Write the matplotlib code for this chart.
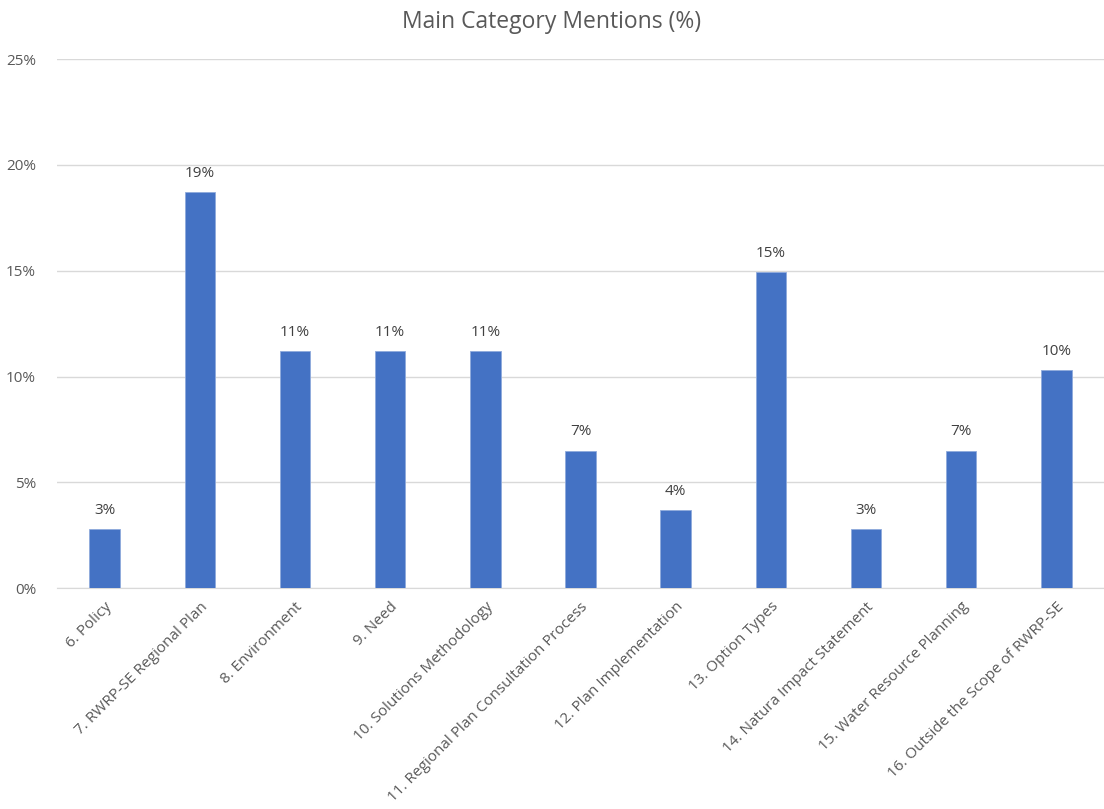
import matplotlib.pyplot as plt
from matplotlib.ticker import PercentFormatter

categories = [
    "6. Policy",
    "7. RWRP-SE Regional Plan",
    "8. Environment",
    "9. Need",
    "10. Solutions Methodology",
    "11. Regional Plan Consultation Process",
    "12. Plan Implementation",
    "13. Option Types",
    "14. Natura Impact Statement",
    "15. Water Resource Planning",
    "16. Outside the Scope of RWRP-SE",
]
mentions = [2.8, 18.7, 11.2, 11.2, 11.2, 6.5, 3.7, 14.95, 2.8, 6.5, 10.3]
labels = ["3%", "19%", "11%", "11%", "11%", "7%", "4%", "15%", "3%", "7%", "10%"]

plt.rcParams['font.family'] = ['Open Sans', 'DejaVu Sans']

fig = plt.figure(figsize=(11.04, 8.09), dpi=100)
ax = fig.add_axes([0.0516, 0.273, 0.9484, 0.654])

x = range(len(categories))
bars = ax.bar(x, mentions, width=0.32, color='#4472C4', edgecolor='#8FAADC', linewidth=0.6, zorder=3)

for b, lab in zip(bars, labels):
    ax.annotate(lab, (b.get_x() + b.get_width() / 2, b.get_height()),
                xytext=(0, 8), textcoords='offset points',
                ha='center', va='bottom', fontsize=11, color='#404040')

ax.set_ylim(0, 25)
ax.set_xlim(-0.5, len(categories) - 0.5)
ax.set_yticks([0, 5, 10, 15, 20, 25])
ax.yaxis.set_major_formatter(PercentFormatter(decimals=0))
ax.grid(axis='y', color='#D9D9D9', linewidth=1, zorder=0)
ax.set_xticks(list(x))
ax.set_xticklabels(categories, rotation=45, ha='right', rotation_mode='anchor')
ax.tick_params(axis='both', length=0, labelsize=11, labelcolor='#595959')
ax.tick_params(axis='x', pad=8)
ax.tick_params(axis='y', pad=15)

for s in ['top', 'right', 'left']:
    ax.spines[s].set_visible(False)
ax.spines['bottom'].set_color('#D9D9D9')

fig.suptitle('Main Category Mentions (%)', y=0.988, fontsize=16.5, color='#595959')

fig.savefig('out.png', dpi=100)
